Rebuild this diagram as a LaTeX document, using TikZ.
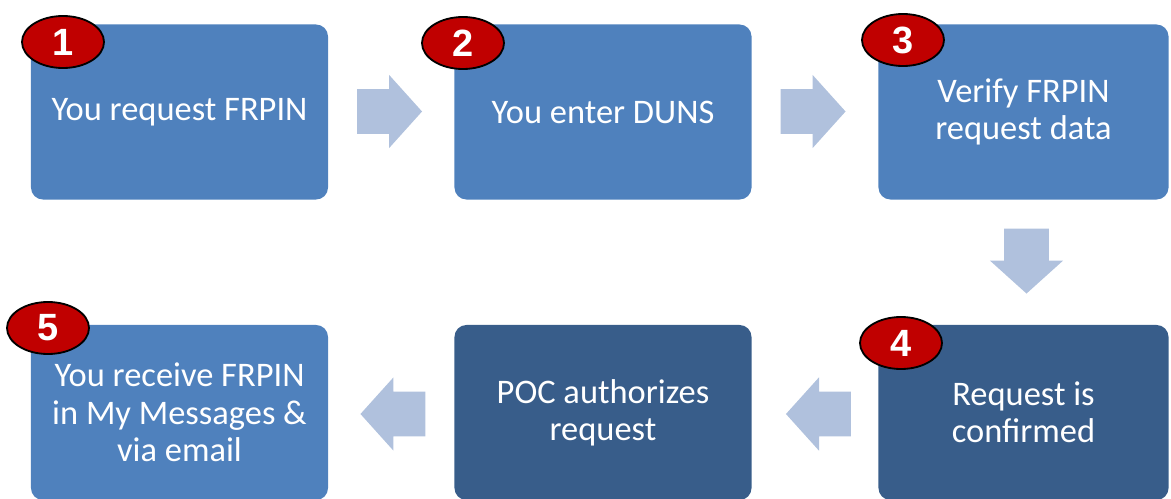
\documentclass[tikz,border=0pt]{standalone}
\usepackage{fontspec}
\setmainfont{Carlito}
\newfontfamily\badgefont{Liberation Sans}
\usetikzlibrary{shapes.geometric,shapes.arrows}
\definecolor{boxblue}{HTML}{4F81BD}
\definecolor{boxdark}{HTML}{385D8A}
\definecolor{flowblue}{HTML}{B0C1DD}
\definecolor{badgered}{HTML}{C00000}
\tikzstyle{stage} = [fill=boxblue, rounded corners=0.3cm, minimum width=7.425cm, minimum height=4.375cm, text=white, align=center, font={\fontsize{24.5}{26.5}\selectfont}]
\tikzstyle{narrow} = [minimum width=7.25cm]
\tikzstyle{dark} = [fill=boxdark]
\tikzstyle{badge} = [ellipse, draw=black, line width=1.3pt, fill=badgered, text=white, minimum width=2.05cm, minimum height=1.3cm, inner sep=0pt, font={\badgefont\bfseries\fontsize{27}{27}\selectfont}]
\tikzstyle{flow} = [single arrow, fill=flowblue, inner xsep=0pt, inner ysep=0.55cm, minimum height=1.625cm, minimum width=1.825cm, single arrow head extend=0.36cm, single arrow tip angle=96]

\begin{document}
\begin{tikzpicture}[x=0.025cm,y=-0.025cm]
    \useasboundingbox (0,0) rectangle (1171,499);
    \node[stage](s1) at (179.5,112){You request FRPIN};
    \node[stage](s2) at (603,112){You enter DUNS};
    \node[stage,narrow](s3) at (1023.5,112){Verify FRPIN\\request data};
    \node[stage,narrow,dark](s4) at (1023.5,412.5){Request is\\confirmed};
    \node[stage,dark](poc) at (603,412.5){POC authorizes\\request};
    \node[stage](s5) at (179.5,412.5){You receive FRPIN\\in My Messages \&\\via email};
    \node[flow](a12) at (379.5,111.5){};
    \node[flow](a23) at (803,111.5){};
    \node[flow,rotate=-90](a34) at (1026.5,251){};
    \node[flow,rotate=180](a4p) at (828.5,414){};
    \node[flow,rotate=180](ap5) at (403,414){};
    \node[badge](b1) at (63,42){1};
    \node[badge](b2) at (463,43){2};
    \node[badge](b3) at (903,40){3};
    \node[badge](b4) at (901,343){4};
    \node[badge](b5) at (48,328){5};
  \end{tikzpicture}
\end{document}
